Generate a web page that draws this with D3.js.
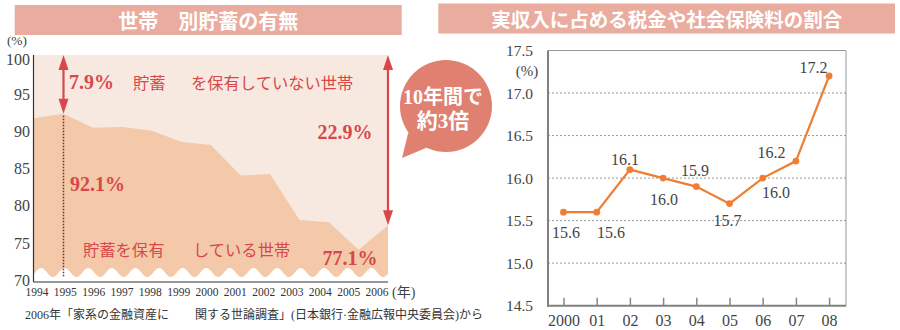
<!DOCTYPE html>
<html lang="ja">
<head>
<meta charset="utf-8">
<script src="https://cdn.jsdelivr.net/npm/d3@7"></script>
<style>
  body { margin: 0; background: #fff; }
  svg { display: block; }
</style>
</head>
<body>
<svg id="chart" width="900" height="330"></svg>
<script>
// ---- 世帯別貯蓄の有無 (左) ----
const years = [1994, 1995, 1996, 1997, 1998, 1999, 2000, 2001, 2002, 2003, 2004, 2005, 2006];
const savingShare = [91.5, 92.1, 90.2, 90.3, 89.8, 88.3, 87.9, 83.8, 84.0, 77.8, 77.5, 73.8, 77.1];
const savingTicks = [70, 75, 80, 85, 90, 95, 100];

// ---- 実収入に占める税金や社会保険料の割合 (右) ----
const rateYears = ["2000", "01", "02", "03", "04", "05", "06", "07", "08"];
const taxRate = [15.6, 15.6, 16.1, 16.0, 15.9, 15.7, 16.0, 16.2, 17.2];
const rateTicks = [14.5, 15.0, 15.5, 16.0, 16.5, 17.0, 17.5];

// value-label placement around each point (dx, dy)
const rateLabelShift = [[2.5, 20.4], [14.3, 20.4], [-4.9, -10.1], [0.9, 21.4], [-1.3, -16.6],
                        [-2, 16.4], [13.3, 14.4], [-24.4, -8.6], [-15.6, -9]];

const SERIF = "'Liberation Serif','DejaVu Serif','Noto Sans CJK JP',serif";
const JP = "'Noto Sans CJK JP','Noto Sans CJK SC',sans-serif";
const RED = "#d9474a";
const svg = d3.select("#chart");

/* ---------- title bars ---------- */
function titleBar(x0, x1, y0, h, text, size) {
  svg.append("rect").attr("x", x0).attr("y", y0).attr("width", x1 - x0).attr("height", h)
    .attr("fill", "#e9ac9e");
  svg.append("text").attr("x", (x0 + x1) / 2).attr("y", y0 + h / 2)
    .attr("text-anchor", "middle").attr("dominant-baseline", "central")
    .attr("font-family", JP).attr("font-weight", 700).attr("font-size", size)
    .attr("fill", "#fff").text(text);
}
titleBar(14.7, 401.7, 5, 30, "世帯\u3000別貯蓄の有無", 20);
titleBar(438.3, 895, 3.5, 30, "実収入に占める税金や社会保険料の割合", 19.5);

/* ---------- left: area chart ---------- */
const xL = d3.scaleLinear().domain(d3.extent(years)).range([34, 388]);
const yL = d3.scaleLinear().domain([70, 100]).range([278, 55]);
const xLab = d3.scalePoint().domain(years).range([36.5, 376.5]);
const left = svg.append("g");

// share without savings (background band up to 100%)
left.append("rect")
  .attr("x", xL(years[0])).attr("y", yL(100))
  .attr("width", xL(years[years.length - 1]) - xL(years[0]))
  .attr("height", yL(70) - yL(100))
  .attr("fill", "#f7e9e0");

// share with savings
const area = d3.area()
  .x((d, i) => xL(years[i]))
  .y0(yL(70))
  .y1(d => yL(d));
left.append("path").datum(savingShare).attr("d", area).attr("fill", "#f3c9a9");

// scalloped break at the bottom of the truncated axis
{
  const xa = xL(years[0]), xb = xL(years[years.length - 1]);
  const period = (xb - xa) / 15;
  const pts = [[xa, 283]];
  for (let x = xa; x <= xb + 0.01; x += 1) {
    pts.push([x, 272.5 - 4.5 * Math.cos(2 * Math.PI * ((x - xa) / period - 0.3))]);
  }
  pts.push([xb, 283]);
  left.append("path").attr("d", d3.line()(pts) + "Z").attr("fill", "#fff");
}

// axis lines
left.append("line").attr("x1", 33.5).attr("x2", 33.5).attr("y1", yL(100)).attr("y2", 282)
  .attr("stroke", "#333").attr("stroke-width", 1.2);
left.append("line").attr("x1", 33.5).attr("x2", xL(years[years.length - 1])).attr("y1", 282).attr("y2", 282)
  .attr("stroke", "#333").attr("stroke-width", 1.2);

// y tick labels
left.append("g").attr("transform", "translate(34,0)")
  .call(d3.axisLeft(yL).tickValues(savingTicks).tickSize(0).tickPadding(4))
  .call(g => g.select(".domain").remove())
  .call(g => g.selectAll("text").attr("font-family", SERIF).attr("font-size", 16)
    .attr("fill", "#444").attr("dy", d => d === 100 ? "0.6em" : "0.45em"));

// x tick labels
left.append("g").attr("transform", "translate(0,282)")
  .call(d3.axisBottom(xLab).tickSize(0).tickPadding(6.3))
  .call(g => g.select(".domain").remove())
  .call(g => g.selectAll("text").attr("font-family", SERIF).attr("font-size", 11.5).attr("fill", "#333"));

left.append("text").attr("x", 17).attr("y", 40).attr("text-anchor", "middle")
  .attr("dominant-baseline", "central").attr("font-family", SERIF).attr("font-size", 13.5)
  .attr("fill", "#444").text("(%)");
left.append("text").attr("x", 392).attr("y", 292.5).attr("dominant-baseline", "central")
  .attr("font-family", SERIF).attr("font-size", 14).attr("fill", "#444").text("(年)");

// double-headed arrows
function arrow(x, yTop, yBot) {
  const g = left.append("g").attr("fill", RED);
  g.append("line").attr("x1", x).attr("x2", x).attr("y1", yTop + 8).attr("y2", yBot - 8)
    .attr("stroke", RED).attr("stroke-width", 2.2);
  g.append("path").attr("d", `M${x},${yTop} L${x - 5},${yTop + 15} L${x + 5},${yTop + 15}Z`);
  g.append("path").attr("d", `M${x},${yBot} L${x - 5},${yBot - 15} L${x + 5},${yBot - 15}Z`);
}
const i95 = years.indexOf(1995), i06 = years.indexOf(2006);
arrow(xL(1995), yL(100), yL(savingShare[i95]));
arrow(xL(2006), yL(100), yL(savingShare[i06]));

// dotted drop line from the 1995 peak
left.append("line").attr("x1", xL(1995)).attr("x2", xL(1995))
  .attr("y1", yL(savingShare[i95]) + 2).attr("y2", 277)
  .attr("stroke", "#8e1f22").attr("stroke-width", 1.5).attr("stroke-dasharray", "1.5,1.5");

const pct = d3.format(".1f");
function bigLabel(x, y, txt) {
  left.append("text").attr("x", x).attr("y", y).attr("text-anchor", "middle")
    .attr("dominant-baseline", "central").attr("font-family", SERIF).attr("font-weight", 700)
    .attr("font-size", 20).attr("fill", RED).text(txt);
}
bigLabel(91.5, 82, pct(100 - savingShare[i95]) + "%");
bigLabel(97.5, 184, pct(savingShare[i95]) + "%");
bigLabel(345, 131.5, pct(100 - savingShare[i06]) + "%");
bigLabel(350, 258, pct(savingShare[i06]) + "%");

function jpLabel(x, y, txt) {
  left.append("text").attr("x", x).attr("y", y).attr("dominant-baseline", "central")
    .attr("font-family", JP).attr("font-size", 16.3).attr("fill", RED).text(txt);
}
jpLabel(133, 81.5, "貯蓄");
jpLabel(191, 81.5, "を保有していない世帯");
jpLabel(83, 249, "貯蓄を保有");
jpLabel(193, 249, "している世帯");

// source note
svg.append("text").attr("x", 25).attr("y", 315).attr("dominant-baseline", "central")
  .attr("font-family", "'Liberation Serif','Noto Sans CJK JP',serif").attr("font-size", 12)
  .attr("fill", "#333").text("2006年「家系の金融資産に");
svg.append("text").attr("x", 195).attr("y", 315).attr("dominant-baseline", "central")
  .attr("font-family", "'Liberation Serif','Noto Sans CJK JP',serif").attr("font-size", 12)
  .attr("fill", "#333").text("関する世論調査」(日本銀行·金融広報中央委員会)から");

// callout bubble
{
  const cx = 446, cy = 106, r = 46;
  const a1 = 115 * Math.PI / 180, a2 = 145 * Math.PI / 180;
  const b = svg.append("g");
  b.append("circle").attr("cx", cx).attr("cy", cy).attr("r", r).attr("fill", "#df8070");
  b.append("path")
    .attr("d", `M${cx + r * Math.cos(a1)},${cy + r * Math.sin(a1)} L402,158 L${cx + r * Math.cos(a2)},${cy + r * Math.sin(a2)}Z`)
    .attr("fill", "#df8070");
  b.append("text").attr("x", 443).attr("y", 97).attr("text-anchor", "middle")
    .attr("dominant-baseline", "central").attr("font-family", SERIF).attr("font-weight", 700)
    .attr("font-size", 20).attr("fill", "#fff").text("10年間で");
  b.append("text").attr("x", 443).attr("y", 121).attr("text-anchor", "middle")
    .attr("dominant-baseline", "central").attr("font-family", SERIF).attr("font-weight", 700)
    .attr("font-size", 21).attr("fill", "#fff").text("約3倍");
}

/* ---------- right: line chart ---------- */
const xR = d3.scalePoint().domain(rateYears).range([563.5, 829.1]);
const yR = d3.scaleLinear().domain([14.5, 17.5]).range([305.7, 50.5]);
const fL = 548, fR = 846;
const right = svg.append("g");

// dashed gridlines
right.selectAll("line.grid").data(rateTicks.slice(1, -1)).join("line")
  .attr("class", "grid").attr("x1", fL).attr("x2", fR)
  .attr("y1", d => yR(d)).attr("y2", d => yR(d))
  .attr("stroke", "#999").attr("stroke-width", 1).attr("stroke-dasharray", "2,2");

// frame
right.append("line").attr("x1", fL).attr("x2", fR).attr("y1", yR(17.5)).attr("y2", yR(17.5))
  .attr("stroke", "#999").attr("stroke-width", 1);
right.append("line").attr("x1", fR).attr("x2", fR).attr("y1", yR(17.5)).attr("y2", yR(14.5))
  .attr("stroke", "#999").attr("stroke-width", 1);

// y axis labels
right.append("g").attr("transform", `translate(${fL},0)`)
  .call(d3.axisLeft(yR).tickValues(rateTicks).tickFormat(d3.format(".1f")).tickSize(0).tickPadding(15))
  .call(g => g.select(".domain").remove())
  .call(g => g.selectAll("text").attr("font-family", SERIF).attr("font-size", 15.5).attr("fill", "#444"));

// x axis with inward ticks
right.append("g").attr("transform", `translate(0,${yR(14.5)})`)
  .call(d3.axisBottom(xR).tickSize(-8).tickPadding(9))
  .call(g => g.select(".domain").remove())
  .call(g => g.selectAll(".tick line").attr("stroke", "#888").attr("stroke-width", 1.5))
  .call(g => g.selectAll("text").attr("font-family", SERIF).attr("font-size", 16).attr("fill", "#444"));

right.append("line").attr("x1", fL).attr("x2", fL).attr("y1", yR(17.5)).attr("y2", yR(14.5) + 1)
  .attr("stroke", "#808080").attr("stroke-width", 2);
right.append("line").attr("x1", fL - 1).attr("x2", fR).attr("y1", yR(14.5)).attr("y2", yR(14.5))
  .attr("stroke", "#808080").attr("stroke-width", 2);

right.append("text").attr("x", 527).attr("y", 71).attr("text-anchor", "middle")
  .attr("dominant-baseline", "central").attr("font-family", SERIF).attr("font-size", 15)
  .attr("fill", "#444").text("(%)");

const ORANGE = "#ef7d33";
right.append("path").datum(taxRate)
  .attr("d", d3.line().x((d, i) => xR(rateYears[i])).y(d => yR(d)))
  .attr("fill", "none").attr("stroke", ORANGE).attr("stroke-width", 2.2);
right.selectAll("circle").data(taxRate).join("circle")
  .attr("cx", (d, i) => xR(rateYears[i])).attr("cy", d => yR(d)).attr("r", 3.4).attr("fill", ORANGE);
right.selectAll("text.val").data(taxRate).join("text").attr("class", "val")
  .attr("x", (d, i) => xR(rateYears[i]) + rateLabelShift[i][0])
  .attr("y", (d, i) => yR(d) + rateLabelShift[i][1])
  .attr("text-anchor", "middle").attr("dominant-baseline", "central")
  .attr("font-family", SERIF).attr("font-size", 16).attr("fill", "#444")
  .text(d => d3.format(".1f")(d));
</script>
</body>
</html>
